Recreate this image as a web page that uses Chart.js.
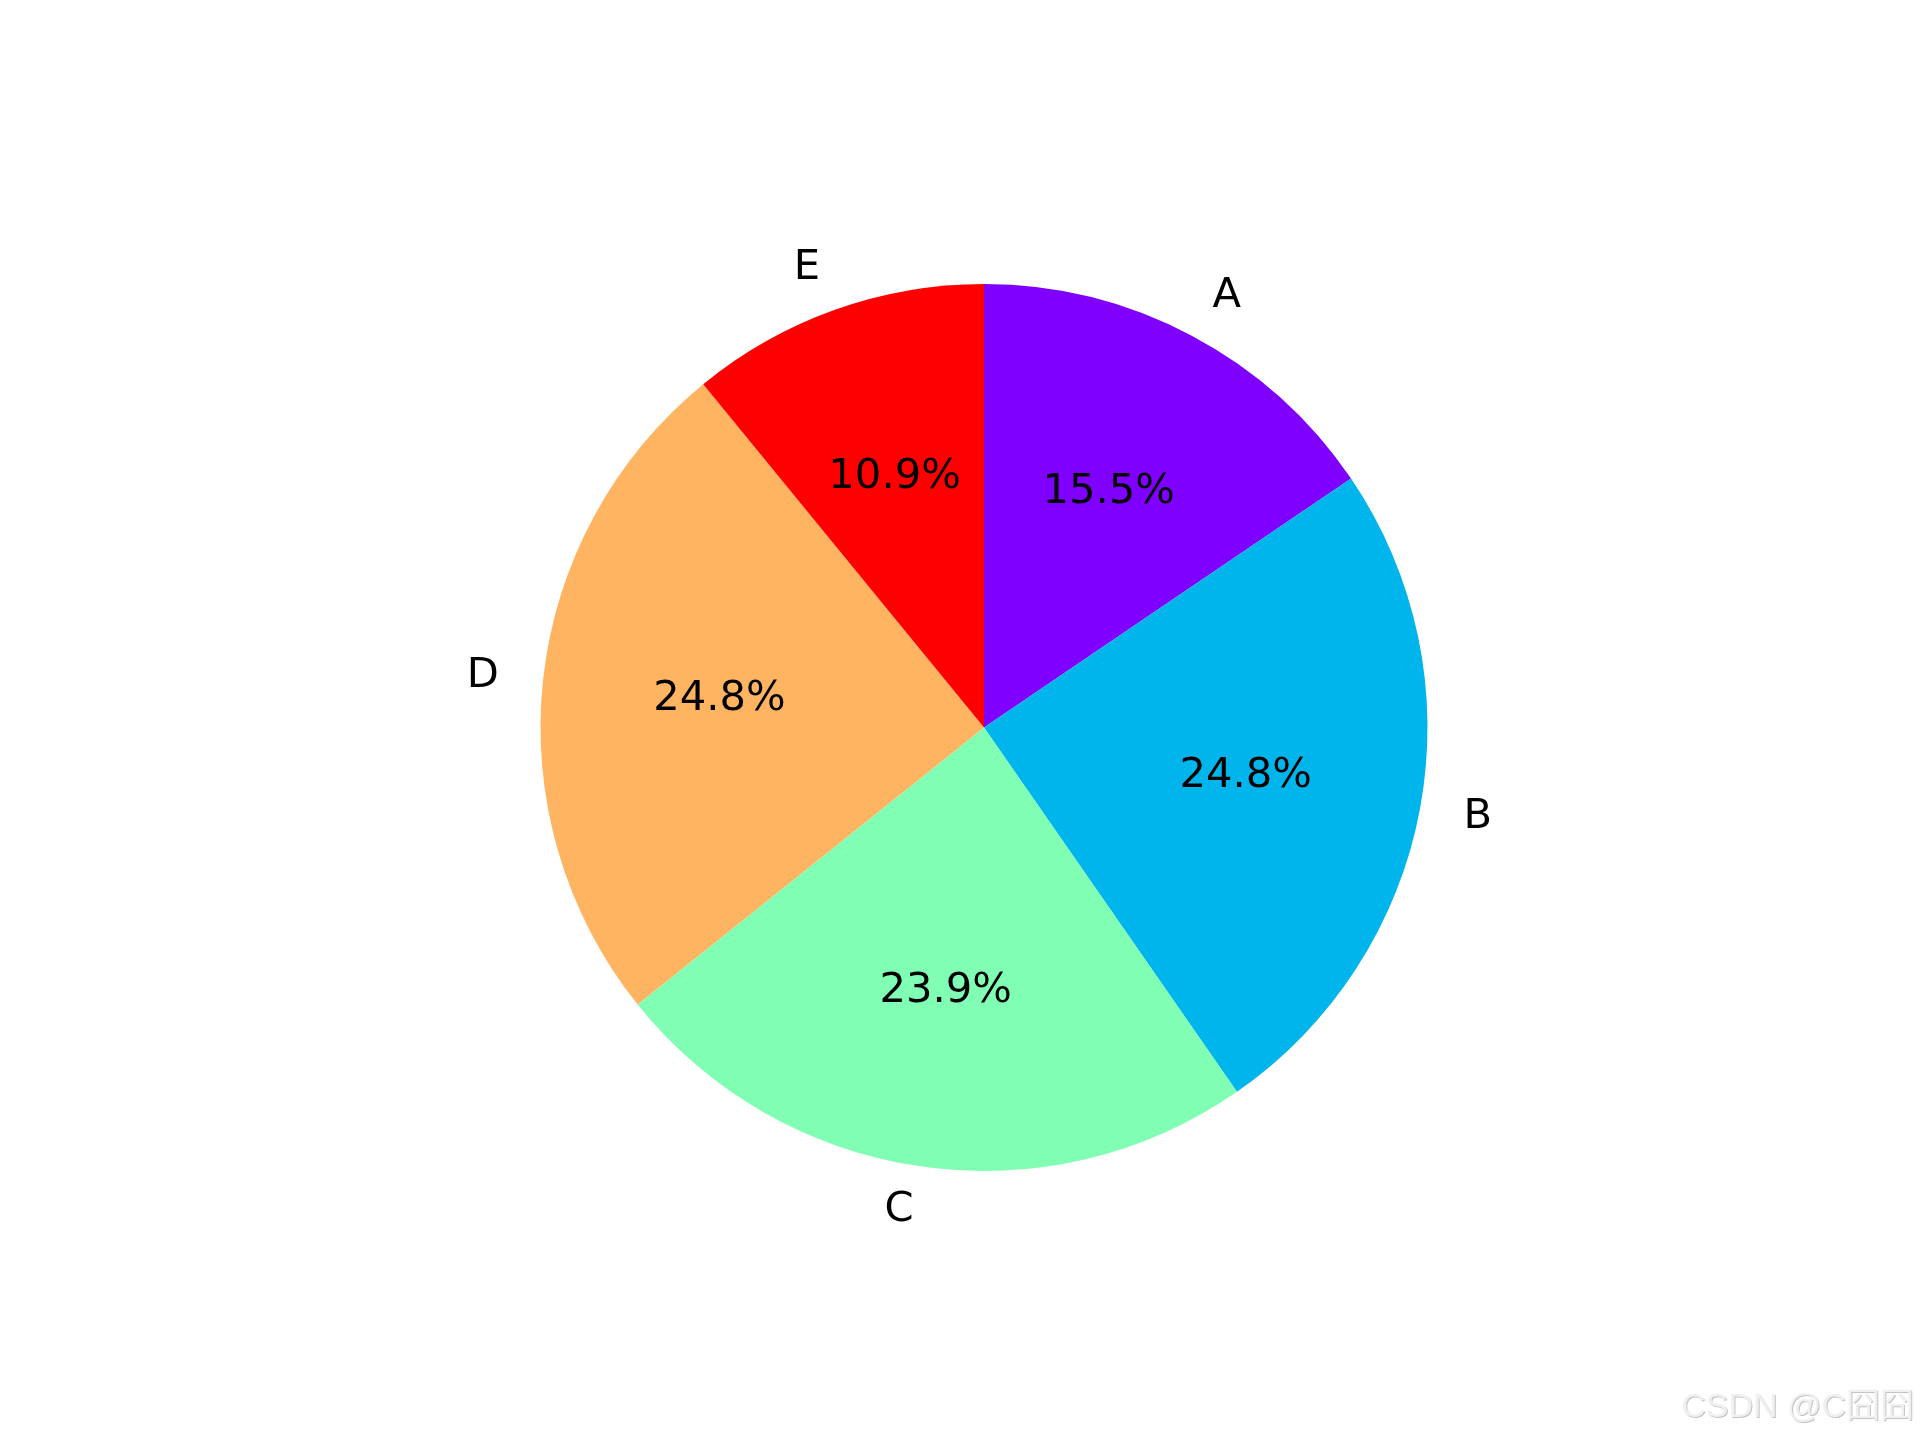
<!DOCTYPE html>
<html lang="en">
  <head>
    <meta charset="UTF-8">
    <title>Pie</title>
    <script src="https://cdn.jsdelivr.net/npm/chart.js@4.4.0/dist/chart.umd.min.js"></script>
    <style>
      html, body { margin: 0; padding: 0; background: #fff; }
      #wrap { width: 1920px; height: 1440px; }
    </style>
  </head>
  <body>
    <div id="wrap"><canvas id="chart" width="1920" height="1440"></canvas></div>
    <script type="text/javascript">
      const labels = ['A', 'B', 'C', 'D', 'E']
      const values = [15.5, 24.8, 23.9, 24.8, 10.9]
      const colors = ['#8000ff', '#00b5eb', '#80ffb4', '#ffb462', '#ff0000']
      const watermark = 'CSDN @C囧囧'

      const total = values.reduce((a, b) => a + b, 0)
      const font = '41.7px "DejaVu Sans"'

      const pieText = {
        id: 'pieText',
        afterDatasetsDraw(chart) {
          const ctx = chart.ctx
          const arcs = chart.getDatasetMeta(0).data
          ctx.save()
          ctx.font = font
          ctx.fillStyle = '#000'
          ctx.textBaseline = 'middle'
          arcs.forEach((arc, i) => {
            const p = arc.getProps(['x', 'y', 'startAngle', 'endAngle', 'outerRadius'], true)
            const mid = (p.startAngle + p.endAngle) / 2
            const c = Math.cos(mid), s = Math.sin(mid)
            // percentage inside
            ctx.textAlign = 'center'
            const pct = (values[i] / total * 100).toFixed(1) + '%'
            ctx.fillText(pct, p.x + c * p.outerRadius * 0.6, p.y + s * p.outerRadius * 0.6)
            // category label outside
            ctx.textAlign = c > 0 ? 'left' : 'right'
            ctx.fillText(labels[i], p.x + c * p.outerRadius * 1.1, p.y + s * p.outerRadius * 1.1)
          })
          // watermark
          ctx.font = '34px "Liberation Sans", Arial, "Noto Sans CJK SC"'
          ctx.textAlign = 'right'
          ctx.textBaseline = 'alphabetic'
          ctx.fillStyle = '#c4c4c4'
          ctx.fillText(watermark, 1915, 1418)
          ctx.fillStyle = '#f0f0f0'
          ctx.fillText(watermark, 1914, 1417)
          ctx.restore()
        }
      }

      const chart = new Chart(document.getElementById('chart').getContext('2d'), {
        type: 'pie',
        data: {
          labels: labels,
          datasets: [{
            data: values,
            backgroundColor: colors,
            borderWidth: 0
          }]
        },
        options: {
          responsive: false,
          animation: false,
          layout: {
            padding: { left: 540, right: 492, top: 284, bottom: 269 }
          },
          plugins: {
            legend: { display: false },
            tooltip: { enabled: false }
          }
        },
        plugins: [pieText]
      })
    </script>
  </body>
</html>
